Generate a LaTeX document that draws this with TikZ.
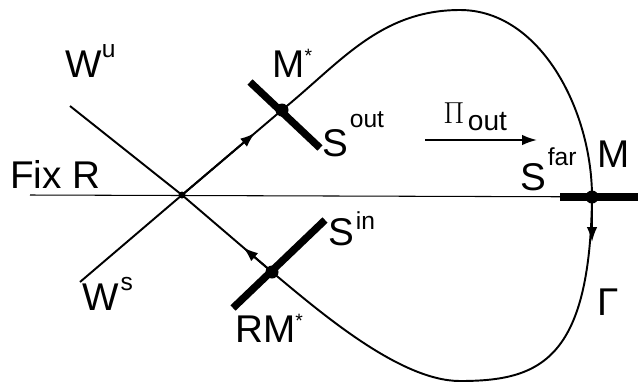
\documentclass[tikz,border=0pt]{standalone}
\usepackage{fontspec}
\setmainfont{Liberation Sans}
\usetikzlibrary{arrows.meta,calc}
\newcommand{\lbl}{\fontsize{22}{26}\selectfont}
\newcommand{\upr}[2]{\raisebox{#1}{\fontsize{14}{16}\selectfont #2}}
\tikzset{
  orbit/.style={line width=1.1pt},
  secline/.style={line width=4.2pt},
  fixline/.style={line width=0.6pt},
  flow/.style={-{Latex[length=8.5pt,width=6pt]}},
  lab/.style={font=\lbl, inner sep=0pt, anchor=base west},
}

\begin{document}
\begin{tikzpicture}[x=0.02cm,y=-0.02cm]
    \useasboundingbox (0,0) rectangle (638,383);
    \coordinate (O) at (182,195);
    \coordinate (Mstar) at (282,110);
    \coordinate (RMstar) at (272,272);
    \coordinate (Mfar) at (592,197);
    \coordinate (Wu) at (70,106);
    \coordinate (Ws) at (80,282);
    \coordinate (top) at (460,10);
    \coordinate (bot) at (460,381);
    \coordinate (fixL) at (30,195);
    \coordinate (fixR) at (638,197);
    \coordinate (piA) at (425,140);
    \coordinate (piB) at (537,140);
    % symmetry line
    \draw[fixline] (fixL) -- (fixR);
    % stable / unstable manifolds
    \draw[orbit] (Wu) -- (O) -- (Ws);
    \draw[orbit] (O) -- (Mstar);
    \draw[orbit] (RMstar) -- (O);
    \draw[orbit,flow] (O) -- ($(O)!0.73!(Mstar)$);
    \draw[orbit,flow] (RMstar) -- ($(RMstar)!0.32!(O)$);
    % homoclinic loop
    \draw[orbit] (Mstar) .. controls (340,63) and (380,10) .. (top)
        .. controls (540,10) and (592,110) .. (Mfar)
        .. controls (590,360) and (540,381) .. (bot)
        .. controls (400,381) and (320,312) .. (RMstar);
    \draw[orbit,flow] (Mfar) -- ++(0,45);
    % sections
    \draw[secline] (Mstar) ++(-32,-28) -- ++(70,66);
    \draw[secline] (RMstar) ++(-39,36) -- ++(92,-88);
    \draw[secline] (Mfar) ++(-32,0) -- ++(78,0);
    \fill (Mstar) circle (0.13cm);
    \fill (RMstar) circle (0.13cm);
    \fill (Mfar) circle (0.13cm);
    \fill (O) circle (0.07cm);
    % map
    \draw[orbit,flow] (piA) -- (piB);
    % labels
    \node[lab] (lWu) at (65,77) {W\upr{11pt}{u}};
    \node[lab] (lWs) at (82,310) {W\kern1pt\upr{11pt}{s}};
    \node[lab] (lfix) at (10,188) {Fix R};
    \node[lab] (lMstar) at (272,77) {M\upr{8pt}{\fontsize{11}{11}\selectfont*}};
    \node[lab] (lRM) at (235,342) {RM\upr{8pt}{\fontsize{11}{11}\selectfont*}};
    \node[lab] (lSout) at (322,156) {S\kern1pt\upr{16pt}{out}};
    \node[lab] (lSin) at (328,245) {S\kern1pt\upr{9pt}{in}};
    \node[lab] (lSfar) at (520,190) {S\kern1pt\upr{14pt}{far}};
    \node[lab] (lM) at (597,167) {M};
    \node[lab] (lGam) at (597,315) {Γ};
    \node[lab] (lPi) at (443,123) {\fontsize{16}{16}\selectfont$\Pi$\kern2pt\raisebox{-4pt}{\fontsize{16}{16}\selectfont out}};
\end{tikzpicture}
\end{document}
